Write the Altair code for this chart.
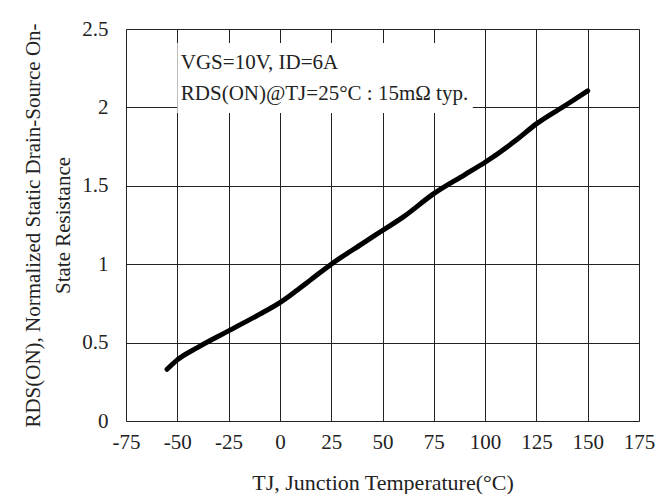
import altair as alt
import pandas as pd

temps = [-55, -50, -40, -25, -10, 0, 8, 15, 25, 40, 50, 60, 75, 90, 100, 115, 125, 140, 150]
rds = [0.33, 0.39, 0.47, 0.575, 0.68, 0.755, 0.83, 0.9, 1.0, 1.13, 1.215, 1.3, 1.45, 1.57, 1.65, 1.79, 1.895, 2.02, 2.105]

box_x = [-50]
box_x2 = [94]
box_y = [1.965]
box_y2 = [2.41]

notes = ["VGS=10V, ID=6A", "RDS(ON)@TJ=25°C : 15mΩ typ."]
note_x = [-48.3, -48.3]
note_y = [2.245, 2.05]

FONT = "Liberation Serif"

df = pd.DataFrame({"t": temps, "r": rds})
box = pd.DataFrame({"x": box_x, "x2": box_x2, "y": box_y, "y2": box_y2})
notes_df = pd.DataFrame({"label": notes, "x": note_x, "y": note_y})

xscale = alt.Scale(domain=[-75, 175], nice=False, zero=False)
yscale = alt.Scale(domain=[0, 2.5], nice=False)

xaxis = alt.Axis(
    values=list(range(-75, 176, 25)),
    labelExpr="replace(datum.label, '\u2212', '-')",
    title="TJ, Junction Temperature(°C)",
    grid=True, gridColor="#222", gridWidth=1,
    ticks=False, domain=False,
    labelFont=FONT, labelFontSize=21, labelColor="#222", labelPadding=10,
    labelFlush=False,
    titleFont=FONT, titleFontSize=22, titleFontWeight="normal", titleColor="#222",
    titlePadding=20,
)
yaxis = alt.Axis(
    values=[0, 0.5, 1, 1.5, 2, 2.5],
    labelExpr="datum.value == 0 ? '0' : format(datum.value, '.1~f')",
    title=["RDS(ON), Normalized Static Drain-Source On-", "State Resistance"],
    grid=True, gridColor="#222", gridWidth=1,
    ticks=False, domain=False,
    labelFont=FONT, labelFontSize=21, labelColor="#222", labelPadding=18,
    labelFlush=False,
    titleFont=FONT, titleFontSize=21, titleFontWeight="normal", titleColor="#222",
    titlePadding=8, titleLineHeight=30,
)

line = alt.Chart(df).mark_line(color="black", strokeWidth=5, strokeCap="round", interpolate="monotone").encode(
    x=alt.X("t:Q", scale=xscale, axis=xaxis),
    y=alt.Y("r:Q", scale=yscale, axis=yaxis),
)

rect = alt.Chart(box).mark_rect(color="white").encode(
    x=alt.X("x:Q", scale=xscale), x2="x2", y=alt.Y("y:Q", scale=yscale), y2="y2"
)

text = alt.Chart(notes_df).mark_text(
    align="left", baseline="alphabetic", font=FONT, fontSize=21, color="#222"
).encode(
    x=alt.X("x:Q", scale=xscale), y=alt.Y("y:Q", scale=yscale), text="label:N"
)

chart = alt.layer(rect, line, text).properties(
    width=513, height=392,
    autosize=alt.AutoSizeParams(type="none"),
    padding={"left": 118, "top": 21, "right": 21, "bottom": 73},
).configure_view(stroke="#111", strokeWidth=2).configure(background="white")

chart.save("out.html", embed_options={"renderer": "svg", "actions": False})
